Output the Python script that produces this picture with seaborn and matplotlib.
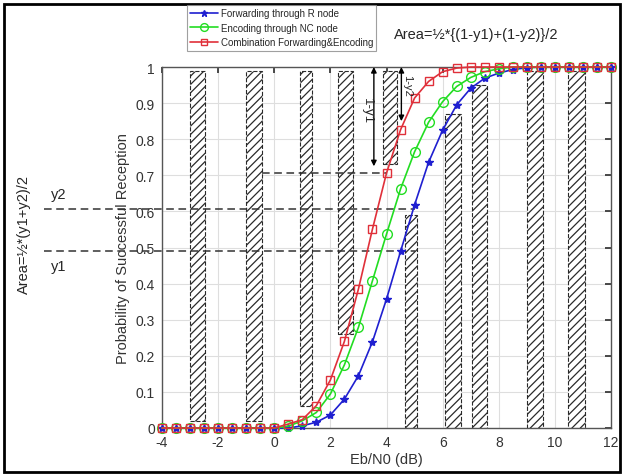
"""
Probability of successful reception vs Eb/N0 for three relaying schemes,
with hatched strips and the y1/y2 area annotations.
"""

import numpy as np
import pandas as pd
import matplotlib
matplotlib.use("Agg")
import matplotlib.pyplot as plt
from matplotlib.patches import Rectangle
import seaborn as sns

# Data
ebn0 = [-4, -3.5, -3, -2.5, -2, -1.5, -1, -0.5, 0, 0.5, 1, 1.5, 2, 2.5, 3, 3.5,
        4, 4.5, 5, 5.5, 6, 6.5, 7, 7.5, 8, 8.5, 9, 9.5, 10, 10.5, 11, 11.5, 12]

forwarding = [0, 0, 0, 0, 0, 0, 0, 0, 0, 0.0, 0.006, 0.016, 0.036, 0.08, 0.145, 0.239,
              0.357, 0.489, 0.618, 0.736, 0.825, 0.895, 0.941, 0.969, 0.983, 0.993,
              0.998, 1, 1, 1, 1, 1, 1]
encoding = [0, 0, 0, 0, 0, 0, 0, 0, 0, 0.005, 0.02, 0.043, 0.094, 0.175, 0.279, 0.408,
            0.537, 0.662, 0.765, 0.847, 0.904, 0.946, 0.971, 0.987, 0.995, 1,
            1, 1, 1, 1, 1, 1, 1]
combination = [0, 0, 0, 0, 0, 0, 0, 0, 0, 0.011, 0.023, 0.062, 0.133, 0.24, 0.385, 0.551,
               0.706, 0.826, 0.914, 0.96, 0.987, 0.997, 1, 1, 1, 1,
               1, 1, 1, 1, 1, 1, 1]

series_names = ["Forwarding through R node", "Encoding through NC node",
                "Combination Forwarding&Encoding"]

# hatched strips (x from, x to, y from, y to)
strip_left = [-3.0, -1.0, 0.9, 2.28, 3.88, 4.66, 6.08, 7.03, 9.0, 10.46]
strip_right = [-2.45, -0.42, 1.34, 2.8, 4.38, 5.07, 6.67, 7.58, 9.57, 11.07]
strip_bottom = [0.02, 0.02, 0.06, 0.26, 0.73, 0.0, 0.0, 0.0, 0.0, 0.0]
strip_top = [0.99, 0.99, 0.99, 0.99, 0.99, 0.59, 0.87, 0.95, 0.99, 0.99]

y1, y2, y_mid = 0.491, 0.607, 0.706


def main():
    sns.set_theme(style="whitegrid")
    plt.rcParams["font.family"] = ["Liberation Sans", "DejaVu Sans"]
    plt.rcParams["axes.unicode_minus"] = False
    plt.rcParams["hatch.linewidth"] = 0.9
    plt.rcParams["hatch.color"] = "#2a2a2a"

    fig = plt.figure(figsize=(6.24, 4.77), dpi=100)
    ax = fig.add_axes([162 / 624, 1 - 429 / 477, (611 - 162) / 624, (429 - 68) / 477])
    ax.set_facecolor("white")

    # hatched strips
    lefts = np.array(strip_left)
    rights = np.array(strip_right)
    bottoms = np.array(strip_bottom)
    tops = np.array(strip_top)
    ax.bar((lefts + rights) / 2, tops - bottoms, width=rights - lefts, bottom=bottoms,
           facecolor="white", edgecolor="#2a2a2a", hatch="////", linewidth=0.8,
           linestyle="--", zorder=2)

    df = pd.DataFrame({"ebn0": ebn0, "fwd": forwarding, "enc": encoding, "comb": combination})
    styles = [("fwd", "#1f1fd0", "*", 6, True),
              ("enc", "#22dd22", "o", 7, False),
              ("comb", "#e0303a", "s", 5.5, False)]
    handles = []
    for (col, color, marker, ms, filled), name in zip(styles, series_names):
        sns.lineplot(data=df, x="ebn0", y=col, ax=ax, color=color, marker=marker,
                     markersize=ms, markerfacecolor=color if filled else "none",
                     markeredgecolor=color, markeredgewidth=1.0, linewidth=1.2,
                     label=name, zorder=4, clip_on=False)
        handles.append(ax.lines[-1])
    ax.get_legend().remove()

    ax.set_xlim(-4, 12)
    ax.set_ylim(0, 1)
    ax.set_xticks(range(-4, 13, 2))
    ax.set_yticks(np.round(np.arange(0, 1.01, 0.1), 1))
    ax.set_yticklabels(["0"] + [f"{v:.1f}" for v in np.arange(0.1, 0.95, 0.1)] + ["1"])
    ax.tick_params(axis="both", direction="in", length=4, labelsize=10, colors="#333333",
                   top=True, right=True, pad=5)
    ax.grid(True, color="#dedede", linewidth=0.8)
    for s in ax.spines.values():
        s.set_color("#555555")
        s.set_linewidth(1.0)
    ax.set_xlabel("Eb/N0 (dB)", fontsize=10.5, color="#333333", labelpad=2)
    ax.set_ylabel("Probability of Successful Reception", fontsize=10.5,
                  color="#333333", labelpad=4)

    # dashed guide lines
    dash = dict(color="#333333", linewidth=1.1, linestyle=(0, (5, 3)), zorder=3, clip_on=False)
    ax.plot([-8.2, 5.0], [y2, y2], **dash)
    ax.plot([-8.2, 5.0], [y1, y1], **dash)
    ax.plot([-0.45, 4.0], [y_mid, y_mid], **dash)

    # 1-y1 and 1-y2 arrows
    arr = dict(arrowstyle="<|-|>", color="black", lw=1.0, mutation_scale=8,
               shrinkA=0, shrinkB=0)
    ax.annotate("", xy=(3.55, 1.0), xytext=(3.55, 0.725), arrowprops=arr, zorder=5)
    ax.annotate("", xy=(4.53, 1.0), xytext=(4.53, 0.85), arrowprops=arr, zorder=5)
    ax.text(3.3, 0.88, "1-y1", rotation=270, ha="center", va="center", fontsize=9.5, zorder=5)
    ax.text(4.75, 0.95, "1-y2", rotation=270, ha="center", va="center", fontsize=8, zorder=5)

    # annotations outside the axes
    fig.text(476 / 624, 1 - 35 / 477, "Area=½*{(1-y1)+(1-y2)}/2", ha="center",
             va="center", fontsize=10.5)
    fig.text(24 / 624, 1 - 235 / 477, "Area=½*(y1+y2)/2", rotation=90, ha="center",
             va="center", fontsize=10.5)
    fig.text(59 / 624, 1 - 195 / 477, "y2", ha="center", va="center", fontsize=10.5)
    fig.text(59 / 624, 1 - 267 / 477, "y1", ha="center", va="center", fontsize=10.5)

    leg = fig.legend(handles, series_names, loc="upper left",
                     bbox_to_anchor=(187 / 624, 1 - 6 / 477), fontsize=7,
                     frameon=True, fancybox=False, borderpad=0.35, labelspacing=0.45,
                     handlelength=2.8, handletextpad=0.3, borderaxespad=0,
                     markerscale=0.8)
    leg.get_frame().set_edgecolor("#888888")
    leg.get_frame().set_linewidth(0.8)

    # figure border
    fig.patches.append(Rectangle((4 / 624, 4 / 477), 616 / 624, 468 / 477,
                                 transform=fig.transFigure, fill=False,
                                 edgecolor="black", linewidth=2))

    fig.savefig("out.png", dpi=100)
    plt.close(fig)


if __name__ == "__main__":
    main()
